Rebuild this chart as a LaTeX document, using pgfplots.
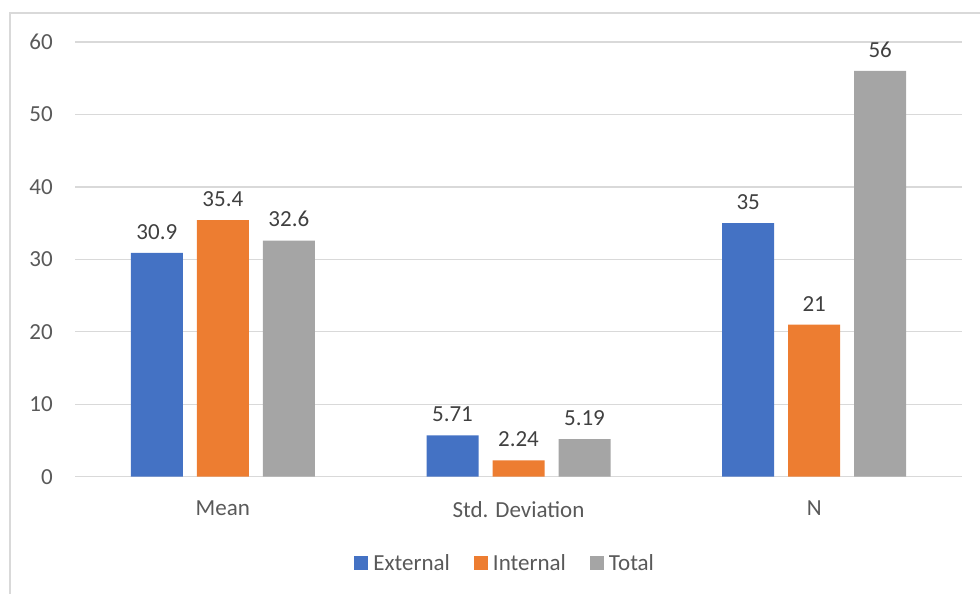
\documentclass[border=0pt]{standalone}
\usepackage{pgfplots}
\pgfplotsset{compat=1.18}
\usepackage{fontspec}
\setmainfont{Carlito}
\definecolor{cblue}{HTML}{4472C4}
\definecolor{corange}{HTML}{ED7D31}
\definecolor{cgray}{HTML}{A5A5A5}
\definecolor{gridc}{HTML}{D9D9D9}
\definecolor{txt}{HTML}{595959}
\definecolor{lbl}{HTML}{404040}
\begin{document}
\begin{tikzpicture}[x=1pt,y=1pt]
\useasboundingbox (0,0) rectangle (980,594);
\draw[gridc, line width=1.5pt] (10,0) -- (10,581) -- (980,581);
\begin{axis}[
  at={(75pt,117.3pt)}, anchor=south west,
  scale only axis, width=887pt, height=434.7pt,
  xmin=-0.5, xmax=2.5, ymin=0, ymax=60,
  ybar, bar width=52pt,
  xtick={0,1,2}, xticklabels={Mean,Std. Deviation,N},
  ytick={0,10,...,60},
  xtick style={draw=none}, ytick style={draw=none},
  axis line style={draw=none},
  ymajorgrids, xmajorgrids=false,
  major grid style={draw=gridc, line width=1.3pt},
  /pgf/number format/assume math mode=true,
  ticklabel style={font=\fontsize{23}{27}\selectfont, text=txt},
  yticklabel style={anchor=east, inner sep=0pt, xshift=-22pt},
  xticklabel style={anchor=north, inner sep=0pt, yshift=-20pt},
  nodes near coords,
  every node near coord/.append style={font=\fontsize{23}{27}\selectfont, text=lbl, yshift=10pt},
  legend style={at={(0.485,-0.1985)}, anchor=center, draw=none, legend columns=3, font=\fontsize{23}{27}\selectfont, text=txt, /tikz/every even column/.append style={column sep=22pt}, /tikz/every odd column/.append style={column sep=3pt}},
  legend image code/.code={\fill[#1] (0pt,-7pt) rectangle (14pt,7pt);},
  clip=false,
]
\draw[gridc, line width=1.5pt] (axis cs:-0.5,0) -- (axis cs:2.5,0);
\addplot[fill=cblue, draw=none, bar shift=-66pt] coordinates {(0,30.9) (1,5.71) (2,35)};
\addplot[fill=corange, draw=none, bar shift=0pt] coordinates {(0,35.4) (1,2.24) (2,21)};
\addplot[fill=cgray, draw=none, bar shift=66pt] coordinates {(0,32.6) (1,5.19) (2,56)};
\legend{External,Internal,Total}
\end{axis}
\end{tikzpicture}
\end{document}
